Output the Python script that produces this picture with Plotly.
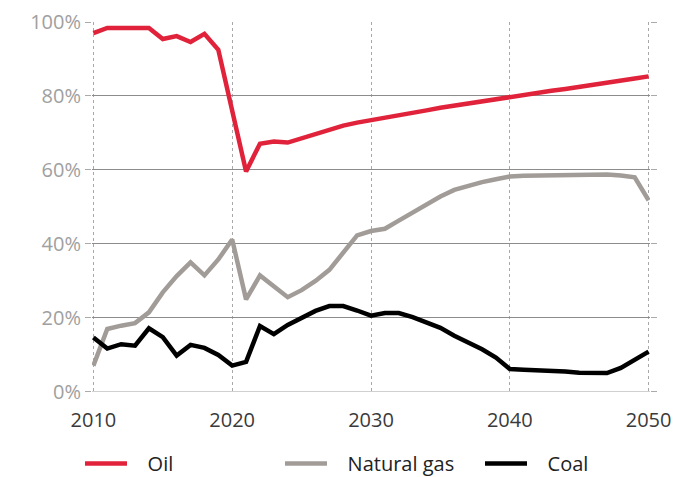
import plotly.graph_objects as go

years = list(range(2010, 2051))

oil = [97.0, 98.4, 98.4, 98.4, 98.4, 95.4, 96.2, 94.6, 96.8, 92.5,
       76.0, 59.6, 67.1, 67.7, 67.4, 68.5, 69.8, 71.0, 72.0, 72.8,
       73.4, 74.1, 74.8, 75.4, 76.1, 76.8, 77.4, 78.0, 78.7, 79.3,
       79.9, 80.4, 80.9, 81.4, 81.9, 82.4, 83.0, 83.5, 84.1, 84.7,
       85.3]

gas = [7.1, 17.0, 17.9, 18.6, 21.5, 26.9, 31.3, 35.0, 31.5, 35.8,
       41.2, 25.0, 31.5, 28.5, 25.6, 27.5, 30.0, 33.0, 37.5, 42.3,
       43.5, 44.1, 46.3, 48.5, 50.7, 52.8, 54.6, 55.8, 56.7, 57.5,
       58.2, 58.4, 58.5, 58.6, 58.7, 58.8, 59.0, 58.8, 58.5, 58.0,
       51.8]

coal = [14.7, 11.7, 12.9, 12.5, 17.2, 14.8, 9.8, 12.7, 11.9, 10.0,
        7.1, 8.1, 17.8, 15.6, 18.1, 20.0, 21.9, 23.2, 23.2, 22.0,
        20.6, 21.3, 21.3, 20.2, 18.7, 17.3, 15.2, 13.5, 11.5, 9.3,
        6.2, 6.0, 5.9, 5.7, 5.5, 5.2, 5.0, 5.1, 6.5, 8.8,
        10.9]

series = [
    ('Oil', oil, '#e0233b'),
    ('Natural gas', gas, '#a19c98'),
    ('Coal', coal, '#000000'),
]

pad = '\u00a0' * 3  # a bit more room between legend line and label

fig = go.Figure()
for name, vals, color in series:
    fig.add_trace(go.Scatter(
        x=years, y=vals, mode='lines', name=pad + name,
        line=dict(color=color, width=4.5)
    ))

fig.update_layout(
    width=675, height=477,
    margin=dict(l=92, r=25, t=22, b=84, autoexpand=False),
    plot_bgcolor='white', paper_bgcolor='white',
    font=dict(family='Open Sans', size=20, color='#333333'),
    showlegend=True,
    legend=dict(
        orientation='h', x=-0.0215, xanchor='left', y=-0.19, yanchor='middle',
        entrywidth=143, entrywidthmode='pixels', itemwidth=42,
        font=dict(size=20, color='#222222')
    ),
    xaxis=dict(
        range=[2009.9, 2050.1], tickvals=[2010, 2020, 2030, 2040, 2050],
        showgrid=True, gridcolor='#a8a8a8', griddash='dot', gridwidth=1,
        zeroline=False, showline=False,
        ticks='outside', ticklen=9, tickcolor='rgba(0,0,0,0)',
        automargin=False,
        tickfont=dict(size=20, color='#3a3a3a')
    ),
    yaxis=dict(
        range=[-0.3, 100], tickvals=[0, 20, 40, 60, 80, 100],
        ticktext=['0%', '20%', '40%', '60%', '80%', '100%'],
        showgrid=True, gridcolor='#8c8c8c', gridwidth=1,
        zeroline=True, zerolinecolor='#d0d0d0', zerolinewidth=1,
        showline=False, automargin=False,
        ticks='outside', ticklen=6, tickcolor='#aaaaaa', mirror='ticks',
        tickfont=dict(size=20, color='#a0a0a0')
    ),
)

# drop the default page margin so the figure fills the window exactly
fig.write_html("out.html", config={'displayModeBar': False},
               post_script="document.body.style.margin='0';")
